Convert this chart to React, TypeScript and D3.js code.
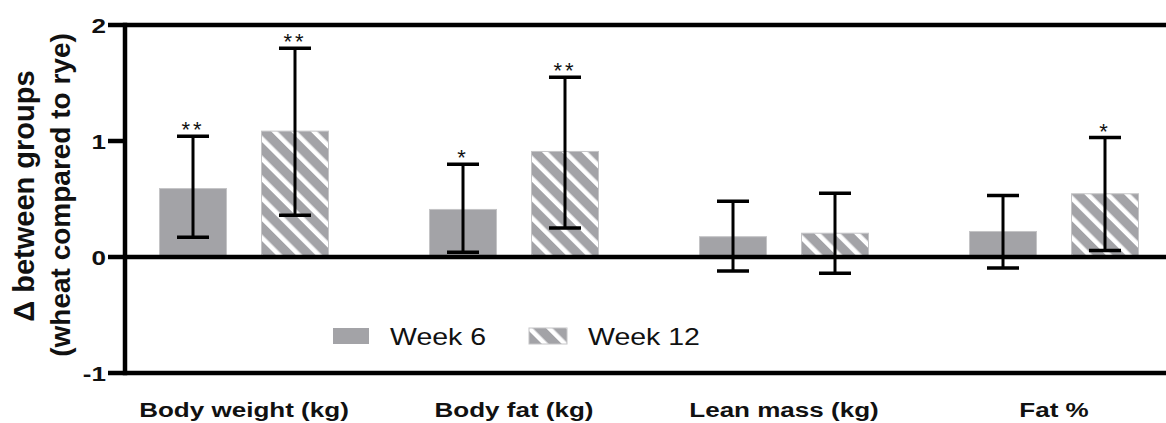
import React from "react";
import * as d3 from "d3";

// Difference between groups (wheat compared to rye), mean with error range
const categories = ["Body weight (kg)", "Body fat (kg)", "Lean mass (kg)", "Fat %"];
const seriesNames = ["Week 6", "Week 12"];

const week6Mean = [0.59, 0.41, 0.175, 0.22];
const week6Low = [0.17, 0.04, -0.12, -0.095];
const week6High = [1.04, 0.8, 0.48, 0.53];
const week6Stars = ["**", "*", "", ""];

const week12Mean = [1.085, 0.91, 0.205, 0.545];
const week12Low = [0.36, 0.25, -0.14, 0.055];
const week12High = [1.8, 1.55, 0.55, 1.03];
const week12Stars = ["**", "**", "", "*"];

const yTicks = [-1, 0, 1, 2];
const fullLines = [2, 0, -1];

const W = 1166;
const H = 423;
const FONT = "'Liberation Sans', Arial, Helvetica, sans-serif";
const BAR_GRAY = "#a3a3a7";
const SX = 1.24; // horizontal text stretch

export default function App() {
  const y = d3.scaleLinear().domain([-1, 2]).range([373, 25]);
  const x0 = d3.scaleBand<string>().domain(categories).range([109, 1189]).padding(0);
  const x1 = d3
    .scaleBand<string>()
    .domain(seriesNames)
    .range([0, 169])
    .paddingInner(0.343)
    .paddingOuter(0);
  const groupOffset = (x0.bandwidth() - 169) / 2;

  const series = [
    { name: seriesNames[0], mean: week6Mean, lo: week6Low, hi: week6High, stars: week6Stars, fill: BAR_GRAY },
    { name: seriesNames[1], mean: week12Mean, lo: week12Low, hi: week12High, stars: week12Stars, fill: "url(#hatch)" },
  ];

  const axisX = 125;
  const tickLeft = 108;
  const capHalf = 16;

  return (
    <svg
      width={W}
      height={H}
      viewBox={`0 0 ${W} ${H}`}
      style={{ position: "absolute", left: 0, top: 0, display: "block", background: "#fff" }}
      fontFamily={FONT}
    >
      <defs>
        <pattern
          id="hatch"
          patternUnits="userSpaceOnUse"
          width={14}
          height={14}
          patternTransform="rotate(-45)"
        >
          <rect x={0} y={0} width={14} height={14} fill={BAR_GRAY} />
          <rect x={0} y={0} width={4.6} height={14} fill="#ffffff" />
        </pattern>
      </defs>

      {/* bars */}
      {categories.map((c, i) => (
        <g key={c} transform={`translate(${(x0(c) ?? 0) + groupOffset},0)`}>
          {series.map((s) => {
            const v = s.mean[i];
            const bx = x1(s.name) ?? 0;
            return (
              <rect
                key={s.name}
                x={bx}
                y={y(Math.max(v, 0))}
                width={x1.bandwidth()}
                height={Math.abs(y(v) - y(0))}
                fill={s.fill}
                stroke="#c4c4c6"
                strokeWidth={1}
              />
            );
          })}
        </g>
      ))}

      {/* axis lines */}
      {fullLines.map((t) => (
        <line key={t} x1={tickLeft} x2={W} y1={y(t)} y2={y(t)} stroke="#000" strokeWidth={4.5} />
      ))}
      {yTicks
        .filter((t) => !fullLines.includes(t))
        .map((t) => (
          <line key={t} x1={tickLeft} x2={axisX} y1={y(t)} y2={y(t)} stroke="#000" strokeWidth={4.5} />
        ))}
      <line x1={axisX} x2={axisX} y1={y(2) - 2.25} y2={y(-1) + 2.25} stroke="#000" strokeWidth={4.5} />

      {/* error bars and significance marks */}
      {categories.map((c, i) => (
        <g key={c} transform={`translate(${(x0(c) ?? 0) + groupOffset},0)`}>
          {series.map((s) => {
            const cx = (x1(s.name) ?? 0) + x1.bandwidth() / 2;
            const yHi = y(s.hi[i]);
            const yLo = y(s.lo[i]);
            return (
              <g key={s.name}>
                <line x1={cx} x2={cx} y1={yHi} y2={yLo} stroke="#000" strokeWidth={3} />
                <line x1={cx - capHalf} x2={cx + capHalf} y1={yHi} y2={yHi} stroke="#000" strokeWidth={3.5} />
                <line x1={cx - capHalf} x2={cx + capHalf} y1={yLo} y2={yLo} stroke="#000" strokeWidth={3.5} />
                {s.stars[i] && (
                  <text
                    x={cx}
                    y={yHi + 1}
                    textAnchor="middle"
                    fontSize={22}
                    letterSpacing={3}
                    fill="#111"
                  >
                    {s.stars[i]}
                  </text>
                )}
              </g>
            );
          })}
        </g>
      ))}

      {/* y tick labels */}
      {yTicks.map((t) => (
        <text
          key={t}
          transform={`translate(106,${y(t) + 7.5}) scale(${SX},1)`}
          textAnchor="end"
          fontSize={21}
          fontWeight="bold"
          fill="#111"
        >
          {t}
        </text>
      ))}

      {/* y axis title */}
      <text
        transform={`translate(34,196) rotate(-90)`}
        textAnchor="middle"
        fontSize={29}
        fontWeight="bold"
        fill="#111"
      >
        Δ between groups
      </text>
      <text
        transform={`translate(70,195) rotate(-90)`}
        textAnchor="middle"
        fontSize={28}
        fontWeight="bold"
        fill="#111"
      >
        (wheat compared to rye)
      </text>

      {/* category labels */}
      {categories.map((c) => (
        <text
          key={c}
          transform={`translate(${(x0(c) ?? 0) + x0.bandwidth() / 2},417) scale(${SX},1)`}
          textAnchor="middle"
          fontSize={21}
          fontWeight="bold"
          fill="#111"
        >
          {c}
        </text>
      ))}

      {/* legend */}
      <rect x={333} y={328} width={36} height={16} fill={BAR_GRAY} />
      <text transform={`translate(390,345) scale(${SX},1)`} fontSize={23} fill="#111">
        {seriesNames[0]}
      </text>
      <rect x={529} y={328} width={38} height={16} fill="url(#hatch)" stroke="#c4c4c6" strokeWidth={1} />
      <text transform={`translate(588,345) scale(${SX},1)`} fontSize={23} fill="#111">
        {seriesNames[1]}
      </text>
    </svg>
  );
}
